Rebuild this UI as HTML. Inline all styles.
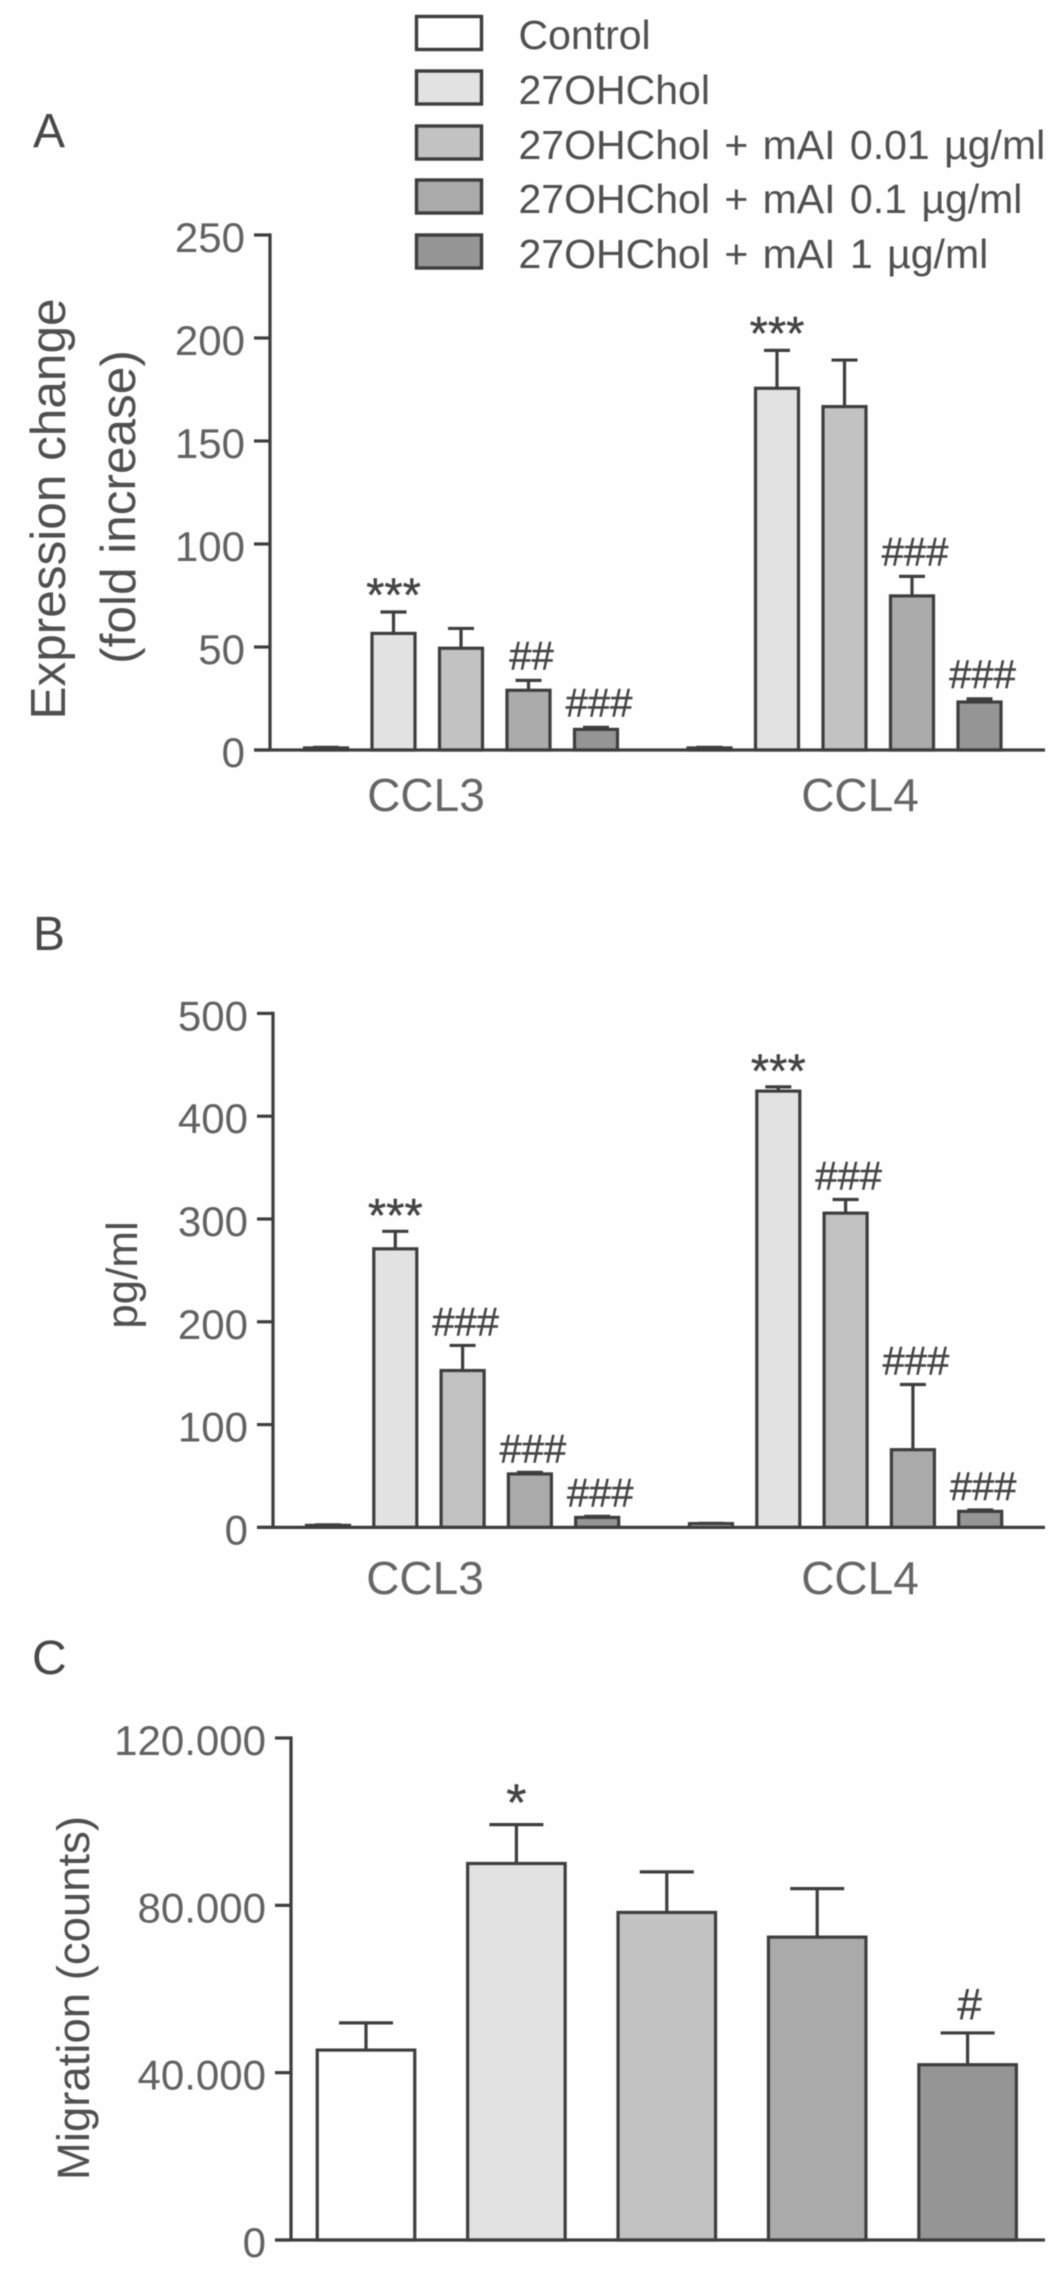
<!DOCTYPE html>
<html lang="en">
<head>
<meta charset="utf-8">
<title>Chemokine expression, secretion and migration bar charts</title>
<style>
  html, body { margin: 0; padding: 0; background: #fefefe; }
  body { width: 1063px; height: 2271px; overflow: hidden; }
  svg { display: block; filter: blur(0.45px); }
  text { font-family: "Liberation Sans", Arial, sans-serif; }
  .legend-text { font-size: 41px; fill: #505050; word-spacing: 3px; }
  .panel-letter { font-size: 48px; fill: #484848; }
  .y-title { font-size: 49.5px; fill: #505050; text-anchor: middle; }
  .tick-label { font-size: 42px; fill: #626262; text-anchor: end; }
  .group-label { font-size: 46px; fill: #666666; text-anchor: middle; }
  .annotation { fill: #444444; stroke: #444444; stroke-width: 0.4; text-anchor: middle; }
  .swatch { stroke: #3e3e3e; stroke-width: 3.4; }
  .bar { stroke: #3e3e3e; stroke-width: 3.2; }
  .err, .axis { stroke: #3e3e3e; stroke-width: 3.2; fill: none; }
</style>
</head>
<body>
<svg id="figure" xmlns="http://www.w3.org/2000/svg" width="1063" height="2271" viewBox="0 0 1063 2271">
  <rect x="0" y="0" width="1063" height="2271" fill="#fefefe"/>

  <g>
    <g>
      <rect class="swatch" x="416.5" y="16.5" width="65" height="33" fill="#ffffff"/>
      <text class="legend-text" x="518.5" y="49">Control</text>
    </g>
    <g>
      <rect class="swatch" x="416.5" y="71" width="65" height="33" fill="#e2e2e2"/>
      <text class="legend-text" x="518.5" y="104">27OHChol</text>
    </g>
    <g>
      <rect class="swatch" x="416.5" y="126" width="65" height="33" fill="#c2c2c2"/>
      <text class="legend-text" x="518.5" y="159">27OHChol + mAI 0.01 µg/ml</text>
    </g>
    <g>
      <rect class="swatch" x="416.5" y="180" width="65" height="33" fill="#aaaaaa"/>
      <text class="legend-text" x="518.5" y="213">27OHChol + mAI 0.1 µg/ml</text>
    </g>
    <g>
      <rect class="swatch" x="416.5" y="235" width="65" height="33" fill="#959595"/>
      <text class="legend-text" x="518.5" y="268">27OHChol + mAI 1 µg/ml</text>
    </g>
  </g>

  <text class="panel-letter" x="33" y="147">A</text>
  <text class="panel-letter" x="33" y="950">B</text>
  <text class="panel-letter" x="32" y="1674">C</text>

  <text class="y-title" transform="translate(65 509) rotate(-90)">Expression change</text>
  <text class="y-title" transform="translate(135 507) rotate(-90)">(fold increase)</text>
  <text class="y-title" style="font-size:44px" transform="translate(137 1275) rotate(-90)">pg/ml</text>
  <text class="y-title" style="font-size:45.5px" transform="translate(89 1998) rotate(-90)">Migration (counts)</text>

  <g id="panel-a"></g>
  <g id="panel-b"></g>
  <g id="panel-c"></g>
</svg>

<script>
// ---------- Data ----------
const seriesFills = ['#ffffff', '#e2e2e2', '#c2c2c2', '#aaaaaa', '#959595'];
const seriesKeys = ['control', '27ohchol', 'mai-0-01', 'mai-0-1', 'mai-1'];

const groupLabels = ['CCL3', 'CCL4'];

// Panel A: expression change (fold increase)
const aTicks = [0, 50, 100, 150, 200, 250];
const aTickLabels = ['0', '50', '100', '150', '200', '250'];
const aCcl3Values = [1, 56.6, 49.4, 29, 10];
const aCcl3Errors = [0.3, 10.4, 9.6, 4.8, 1];
const aCcl3Marks = ['', '***', '', '##', '###'];
const aCcl4Values = [1, 175.6, 166.7, 74.8, 23.3];
const aCcl4Errors = [0.3, 18.4, 22.6, 9.5, 1.5];
const aCcl4Marks = ['', '***', '', '###', '###'];

// Panel B: pg/ml
const bTicks = [0, 100, 200, 300, 400, 500];
const bTickLabels = ['0', '100', '200', '300', '400', '500'];
const bCcl3Values = [2, 271, 152.6, 52, 9.7];
const bCcl3Errors = [0.5, 17, 24.4, 1.6, 1.1];
const bCcl3Marks = ['', '***', '###', '###', '###'];
const bCcl4Values = [3.7, 424.4, 305.7, 75.6, 15.6];
const bCcl4Errors = [0.3, 4.1, 13.3, 63.4, 1.4];
const bCcl4Marks = ['', '***', '###', '###', '###'];

// Panel C: migration (counts)
const cTicks = [0, 40000, 80000, 120000];
const cTickLabels = ['0', '40.000', '80.000', '120.000'];
const cValues = [45400, 90000, 78300, 72400, 41900];
const cErrors = [6500, 9300, 9700, 11600, 7600];
const cMarks = ['', '*', '', '', '#'];

// ---------- Drawing ----------
const SVG_NS = 'http://www.w3.org/2000/svg';

function make(tag, parent) {
  const el = document.createElementNS(SVG_NS, tag);
  parent.appendChild(el);
  return el;
}

function line(parent, x1, y1, x2, y2, cls) {
  const el = make('line', parent);
  el.setAttribute('x1', x1);
  el.setAttribute('y1', y1);
  el.setAttribute('x2', x2);
  el.setAttribute('y2', y2);
  el.setAttribute('class', cls);
  return el;
}

function drawAxes(root, frame, ticks, tickLabels, yScale) {
  const yAxis = line(root, frame.axisX, frame.y0, frame.axisX, yScale(ticks[ticks.length - 1]) - 1.6, 'axis');
  
  

  const xAxis = line(root, frame.axisX - 16, frame.y0, frame.xEnd, frame.y0, 'axis');
  
  

  ticks.forEach(function (t, i) {
    const y = yScale(t);
    const mark = line(root, frame.axisX - 16, y, frame.axisX, y, 'axis');
    
    

    const label = make('text', root);
    label.setAttribute('class', 'tick-label');
    label.setAttribute('x', frame.axisX - 25);
    label.setAttribute('y', y + 17);
    label.textContent = tickLabels[i];
    
    
  });
}

function drawBars(root, frame, yScale, groupKey, startX, values, errors, marks) {
  values.forEach(function (v, i) {
    const cx = startX + i * frame.step;
    const top = yScale(v);
    const errTop = yScale(v + errors[i]);

    const cap = line(root, cx - frame.capW / 2, errTop, cx + frame.capW / 2, errTop, 'err');
    
    

    const stem = line(root, cx, errTop, cx, top, 'err');
    
    

    const bar = make('rect', root);
    bar.setAttribute('class', 'bar');
    bar.setAttribute('x', cx - frame.barW / 2);
    bar.setAttribute('y', top);
    bar.setAttribute('width', frame.barW);
    bar.setAttribute('height', Math.max(0, frame.y0 - top));
    bar.setAttribute('fill', seriesFills[i]);
    
    

    if (marks[i]) {
      const isStar = marks[i].charAt(0) === '*';
      const note = make('text', root);
      note.setAttribute('class', 'annotation');
      note.setAttribute('font-size', isStar ? frame.starSize : frame.hashSize);
      note.setAttribute('x', cx + (isStar ? 0 : frame.hashDx));
      note.setAttribute('y', errTop + (isStar ? frame.starDy : frame.hashDy));
      note.textContent = marks[i];
      
      
    }
  });
}

function scaleFor(frame, maxValue) {
  return function (v) {
    return frame.y0 - (v / maxValue) * (frame.y0 - frame.yTop);
  };
}

function drawGroupLabel(root, text, x, y) {
  const el = make('text', root);
  el.setAttribute('class', 'group-label');
  el.setAttribute('x', x);
  el.setAttribute('y', y);
  el.textContent = text;
  
  
}

// Panel A
(function () {
  const root = document.getElementById('panel-a');
  const frame = { axisX: 270, xEnd: 1045, y0: 750, yTop: 235, step: 67.5, barW: 43, capW: 26,
                  starSize: 47, hashSize: 40, starDy: -1, hashDy: -11, hashDx: 3 };
  const yScale = scaleFor(frame, aTicks[aTicks.length - 1]);
  drawBars(root, frame, yScale, 'a-ccl3', 326, aCcl3Values, aCcl3Errors, aCcl3Marks);
  drawBars(root, frame, yScale, 'a-ccl4', 709.5, aCcl4Values, aCcl4Errors, aCcl4Marks);
  drawAxes(root, frame, aTicks, aTickLabels, yScale);
  drawGroupLabel(root, groupLabels[0], 426, 811);
  drawGroupLabel(root, groupLabels[1], 860, 811);
})();

// Panel B
(function () {
  const root = document.getElementById('panel-b');
  const frame = { axisX: 273, xEnd: 1045, y0: 1527.4, yTop: 1013.4, step: 67.3, barW: 43, capW: 26,
                  starSize: 47, hashSize: 40, starDy: 0, hashDy: -10, hashDx: 3 };
  const yScale = scaleFor(frame, bTicks[bTicks.length - 1]);
  drawBars(root, frame, yScale, 'b-ccl3', 328, bCcl3Values, bCcl3Errors, bCcl3Marks);
  drawBars(root, frame, yScale, 'b-ccl4', 711, bCcl4Values, bCcl4Errors, bCcl4Marks);
  drawAxes(root, frame, bTicks, bTickLabels, yScale);
  drawGroupLabel(root, groupLabels[0], 425, 1594);
  drawGroupLabel(root, groupLabels[1], 860, 1594);
})();

// Panel C
(function () {
  const root = document.getElementById('panel-c');
  const frame = { axisX: 291, xEnd: 1045, y0: 2240, yTop: 1738, step: 150.4, barW: 97.5, capW: 54,
                  starSize: 52, hashSize: 44, starDy: -4, hashDy: -14, hashDx: 2 };
  const yScale = scaleFor(frame, cTicks[cTicks.length - 1]);
  drawBars(root, frame, yScale, 'c', 366, cValues, cErrors, cMarks);
  drawAxes(root, frame, cTicks, cTickLabels, yScale);
})();
</script>
</body>
</html>
